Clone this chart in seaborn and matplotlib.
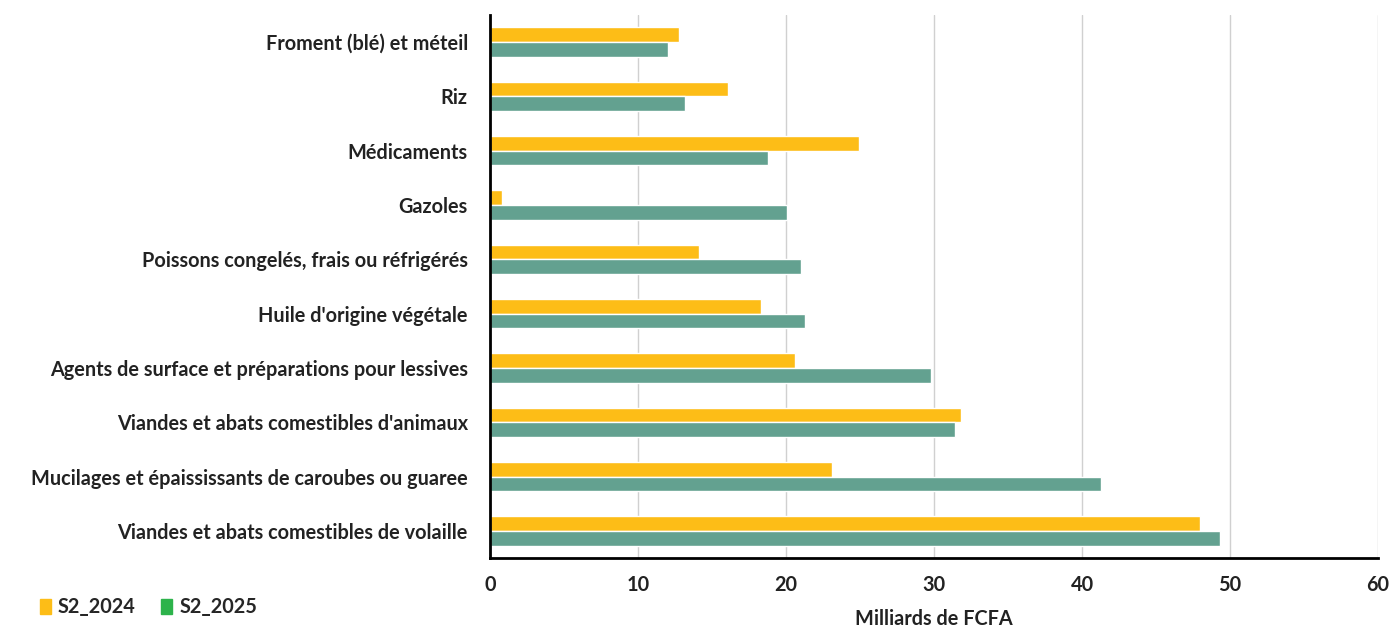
import matplotlib
matplotlib.use("Agg")
import matplotlib.pyplot as plt
from matplotlib.patches import Patch
import pandas as pd
import seaborn as sns

produits = [
    "Froment (blé) et méteil",
    "Riz",
    "Médicaments",
    "Gazoles",
    "Poissons congelés, frais ou réfrigérés",
    "Huile d'origine végétale",
    "Agents de surface et préparations pour lessives",
    "Viandes et abats comestibles d'animaux",
    "Mucilages et épaississants de caroubes ou guaree",
    "Viandes et abats comestibles de volaille",
]
s2_2024 = [12.8, 16.1, 24.9, 0.8, 14.1, 18.3, 20.6, 31.8, 23.1, 48.0]
s2_2025 = [12.0, 13.2, 18.8, 20.1, 21.0, 21.3, 29.8, 31.4, 41.3, 49.3]
periodes = ["S2_2024", "S2_2025"]

df = pd.DataFrame({
    "produit": produits * 2,
    "valeur": s2_2024 + s2_2025,
    "periode": [periodes[0]] * len(produits) + [periodes[1]] * len(produits),
})

sns.set_style("white")
plt.rcParams["font.family"] = ["Lato", "DejaVu Sans"]

fig = plt.figure(figsize=(13.91, 6.3), dpi=100)
ax = fig.add_axes([490 / 1391, 1 - 558 / 630, (1378 - 490) / 1391, (558 - 15) / 630])

bar_colors = {"S2_2024": "#FDBD17", "S2_2025": "#63A190"}
sns.barplot(data=df, y="produit", x="valeur", hue="periode", order=produits,
            hue_order=periodes, palette=bar_colors, width=0.54, saturation=1,
            orient="h", ax=ax, legend=False)

ax.set_xlim(0, 60)
ax.set_xticks(range(0, 61, 10))
ax.grid(axis="x", color="#d0d0d0", linewidth=1)
ax.set_axisbelow(True)
for side in ["top", "right"]:
    ax.spines[side].set_visible(False)
ax.spines["left"].set_color("black")
ax.spines["left"].set_linewidth(2)
ax.spines["bottom"].set_color("black")
ax.spines["bottom"].set_linewidth(2)
ax.tick_params(axis="y", length=0, labelsize=14.3, colors="#222222", pad=16)
ax.tick_params(axis="x", length=0, labelsize=14.3, colors="#222222", pad=12)
for lab in ax.get_xticklabels() + ax.get_yticklabels():
    lab.set_fontweight("bold")
ax.set_ylabel("")
ax.set_xlabel("Milliards de FCFA", fontsize=14.3, fontweight="bold", color="#222222", labelpad=10)

handles = [Patch(color="#FDBD17", label="S2_2024"), Patch(color="#2DB34B", label="S2_2025")]
fig.legend(handles=handles, loc="lower left", bbox_to_anchor=(22 / 1391, -0.008), ncol=2,
           frameon=False, handlelength=0.55, handleheight=0.8, handletextpad=0.35,
           columnspacing=1.3, prop={"weight": "bold", "size": 14.3})

fig.savefig("out.png", dpi=100)
